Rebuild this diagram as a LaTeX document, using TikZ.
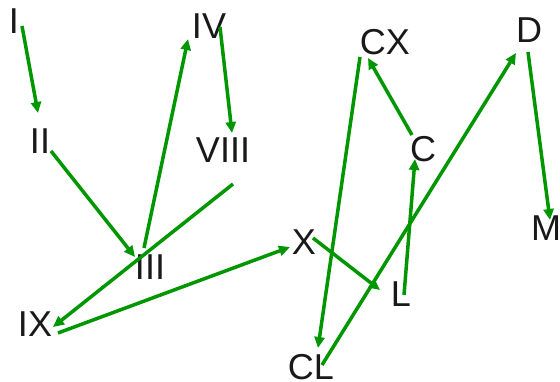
\documentclass[tikz,border=0pt]{standalone}
\usepackage{fontspec}
\setmainfont{Liberation Sans}
\usetikzlibrary{arrows.meta,calc}
\definecolor{edgegreen}{RGB}{0,150,0}
\definecolor{labelgray}{RGB}{25,25,25}
\tikzset{
  lbl/.style={inner sep=0pt, text=labelgray, font=\fontsize{36}{40}\selectfont},
  link/.style={draw=edgegreen, line width=3.5pt, -{Triangle[length=11pt,width=10pt]}}
}
\begin{document}
\begin{tikzpicture}[x=1pt,y=-1pt]
\useasboundingbox (0,0) rectangle (560,381);
\node[lbl] (I) at (14,21.5) {I};
\node[lbl] (II) at (40,141.5) {II};
\node[lbl] (III) at (150,267) {III};
\node[lbl] (IV) at (209,26.5) {IV};
\node[lbl] (VIII) at (223,150.5) {VIII};
\node[lbl] (IX) at (35,324) {IX};
\node[lbl] (X) at (304,242) {X};
\node[lbl] (L) at (401,294) {L};
\node[lbl] (C) at (423,149) {C};
\node[lbl] (CX) at (385,42) {CX};
\node[lbl] (CL) at (311,367) {CL};
\node[lbl] (D) at (529,30) {D};
\node[lbl] (M) at (546,228) {M};

\draw[link] ($(I)+(8,4.5)$) -- ($(II)+(-2,-28.5)$);
\draw[link] ($(II)+(11,9.5)$) -- ($(III)+(-15,-10)$);
\draw[link] ($(III)+(-6,-19)$) -- ($(IV)+(-21,12.5)$);
\draw[link] ($(IV)+(11,0.5)$) -- ($(VIII)+(9,-17.5)$);
\draw[link] ($(VIII)+(10,33.5)$) -- ($(IX)+(18,3)$);
\draw[link] ($(IX)+(23,9)$) -- ($(X)+(-14,5)$);
\draw[link] ($(X)+(9,-4)$) -- ($(L)+(-21,-4)$);
\draw[link] ($(L)+(3,1)$) -- ($(C)+(-8,10)$);
\draw[link] ($(C)+(-11,-14)$) -- ($(CX)+(-17,16)$);
\draw[link] ($(CX)+(-25,15)$) -- ($(CL)+(7,-19)$);
\draw[link] ($(CL)+(11,-2)$) -- ($(D)+(-13,23)$);
\draw[link] ($(D)+(-1,22)$) -- ($(M)+(4,-8)$);
\end{tikzpicture}
\end{document}
